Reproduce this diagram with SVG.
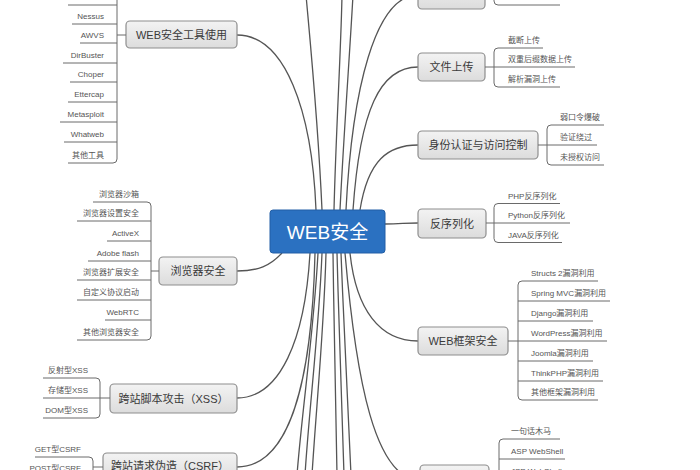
<svg xmlns="http://www.w3.org/2000/svg" width="700" height="470" viewBox="0 0 700 470">
<defs>
<linearGradient id="g" x1="0" y1="0" x2="0" y2="1"><stop offset="0" stop-color="#f3f3f3"/><stop offset="1" stop-color="#dcdcdc"/></linearGradient>
<style>
.box{fill:url(#g);stroke:#8e8e8e;stroke-width:1.2}
.mt{font-family:"Liberation Sans","Noto Sans CJK SC",sans-serif;font-size:11px;fill:#3a3a3a;text-anchor:middle;dominant-baseline:central}
.ct{font-family:"Liberation Sans","Noto Sans CJK SC",sans-serif;font-size:8px;fill:#555}
.l{text-anchor:end}
.conn path{fill:none;stroke:#555;stroke-width:1.3}
.br{fill:none;stroke:#6a6a6a;stroke-width:1}
</style>
</defs>
<rect width="700" height="470" fill="#fff"/>

<g id="connectors" class="conn">
<path d="M316,210 C312,110 285,35 237,35"/>
<path d="M322,210 C318,120 310,40 306,-5"/>
<path d="M334,210 C336,130 341,50 342,-5"/>
<path d="M340,210 C344,130 350,50 353,-5"/>
<path d="M346,210 C352,90 375,-5 418,-5"/>
<path d="M353,210 C360,110 380,67 418,67"/>
<path d="M360,210 C368,160 388,145 418,145"/>
<path d="M385,224 C400,224 405,223 418,223"/>
<path d="M282,253 C270,266 258,271 237,271"/>
<path d="M310,253 C305,340 280,398 237,398"/>
<path d="M315,253 C312,380 290,467 237,467"/>
<path d="M318,253 C314,330 302,410 297,475"/>
<path d="M322,253 C319,330 309,410 305,475"/>
<path d="M326,253 C324,330 316,410 312,475"/>
<path d="M333,253 C334,330 336,410 337,475"/>
<path d="M337,253 C339,330 342,410 344,475"/>
<path d="M341,253 C344,330 348,410 351,475"/>
<path d="M345,253 C356,380 375,480 420,480"/>
<path d="M350,253 C356,310 380,341 418,341"/>
</g>

<g id="center">
<rect x="270" y="210" width="115" height="43" rx="3" fill="#2b71c1" stroke="#235fa6" stroke-width="1"/>
<text x="327.5" y="232" font-family="'Liberation Sans','Noto Sans CJK SC',sans-serif" font-size="19" fill="#fff" text-anchor="middle" dominant-baseline="central">WEB安全</text>
</g>

<g id="tools">
<rect class="box" x="126" y="21" width="111" height="27" rx="4"/>
<text class="mt" x="181.5" y="35">WEB安全工具使用</text>
<path class="br" d="M117,35 H126 M117,-10 V159 Q117,163 113,163 H68 M68,5 H117 M72,24 H117 M80,43 H117 M63,63 H117 M70,82 H117 M68,102 H117 M60,122 H117 M64,142 H117"/>
<text class="ct l" x="104" y="19">Nessus</text>
<text class="ct l" x="104" y="38">AWVS</text>
<text class="ct l" x="104" y="58">DirBuster</text>
<text class="ct l" x="104" y="77">Choper</text>
<text class="ct l" x="104" y="97">Ettercap</text>
<text class="ct l" x="104" y="117">Metasploit</text>
<text class="ct l" x="104" y="137">Whatweb</text>
<text class="ct l" x="104" y="158">其他工具</text>
</g>

<g id="browser">
<rect class="box" x="159" y="257" width="78" height="28" rx="4"/>
<text class="mt" x="198" y="271">浏览器安全</text>
<path class="br" d="M151,271 H159 M93,202 H147 Q151,202 151,206 V336 Q151,340 147,340 H77 M77,221 H151 M107,241 H151 M88,261 H151 M77,280 H151 M77,300 H151 M105,320 H151"/>
<text class="ct l" x="139" y="197">浏览器沙箱</text>
<text class="ct l" x="139" y="216">浏览器设置安全</text>
<text class="ct l" x="139" y="236">ActiveX</text>
<text class="ct l" x="139" y="256">Adobe flash</text>
<text class="ct l" x="139" y="275">浏览器扩展安全</text>
<text class="ct l" x="139" y="295">自定义协议启动</text>
<text class="ct l" x="139" y="315">WebRTC</text>
<text class="ct l" x="139" y="335">其他浏览器安全</text>
</g>

<g id="xss">
<rect class="box" x="110" y="384" width="127" height="29" rx="4"/>
<text class="mt" x="173.5" y="398.5">跨站脚本攻击（XSS）</text>
<path class="br" d="M43,378 H96 Q100,378 100,382 V414 Q100,418 96,418 H43 M43,398 H110"/>
<text class="ct l" x="88" y="373">反射型XSS</text>
<text class="ct l" x="88" y="393">存储型XSS</text>
<text class="ct l" x="88" y="413">DOM型XSS</text>
</g>

<g id="csrf">
<rect class="box" x="103" y="453" width="134" height="29" rx="4"/>
<text class="mt" x="170" y="466">跨站请求伪造（CSRF）</text>
<path class="br" d="M93,467 H103 M35,457 H89 Q93,457 93,461 V480 M35,476 H93"/>
<text class="ct l" x="81" y="452">GET型CSRF</text>
<text class="ct l" x="81" y="471">POST型CSRF</text>
</g>

<g id="fileinclude">
<rect class="box" x="418" y="-20" width="67" height="29" rx="4"/>
<path class="br" d="M485,-5 H494 M494,-20 V1 Q494,5 498,5 H560"/>
</g>

<g id="upload">
<rect class="box" x="418" y="53" width="67" height="28" rx="4"/>
<text class="mt" x="451.5" y="67">文件上传</text>
<path class="br" d="M543,48 H498 Q494,48 494,52 V83 Q494,87 498,87 H560 M485,67 H575"/>
<text class="ct" x="508" y="43">截断上传</text>
<text class="ct" x="508" y="62">双重后缀数据上传</text>
<text class="ct" x="508" y="82">解析漏洞上传</text>
</g>

<g id="auth">
<rect class="box" x="418" y="131" width="120" height="28" rx="4"/>
<text class="mt" x="478" y="145">身份认证与访问控制</text>
<path class="br" d="M604,125 H551 Q547,125 547,129 V161 Q547,165 551,165 H604 M538,145 H597"/>
<text class="ct" x="560" y="120">弱口令爆破</text>
<text class="ct" x="560" y="140">验证绕过</text>
<text class="ct" x="560" y="160">未授权访问</text>
</g>

<g id="deser">
<rect class="box" x="418" y="209" width="68" height="29" rx="4"/>
<text class="mt" x="452" y="223.5">反序列化</text>
<path class="br" d="M560,203.5 H498 Q494,203.5 494,207.5 V238.5 Q494,242.5 498,242.5 H562 M486,223 H570"/>
<text class="ct" x="508" y="198.5">PHP反序列化</text>
<text class="ct" x="508" y="218">Python反序列化</text>
<text class="ct" x="508" y="237.5">JAVA反序列化</text>
</g>

<g id="framework">
<rect class="box" x="418" y="327" width="90" height="28" rx="4"/>
<text class="mt" x="463" y="341">WEB框架安全</text>
<path class="br" d="M598,281 H522 Q518,281 518,285 V396 Q518,400 522,400 H598 M518,301 H610 M518,321 H593 M508,341 H607 M518,361 H593 M518,381 H603"/>
<text class="ct" x="531" y="276">Structs 2漏洞利用</text>
<text class="ct" x="531" y="296">Spring MVC漏洞利用</text>
<text class="ct" x="531" y="316">Django漏洞利用</text>
<text class="ct" x="531" y="336">WordPress漏洞利用</text>
<text class="ct" x="531" y="356">Joomla漏洞利用</text>
<text class="ct" x="531" y="376">ThinkPHP漏洞利用</text>
<text class="ct" x="531" y="395">其他框架漏洞利用</text>
</g>

<g id="webshell">
<rect class="box" x="420" y="465" width="69" height="30" rx="4"/>
<path class="br" d="M560,439 H503 Q499,439 499,443 V490 M499,459 H565 M489,479 H565"/>
<text class="ct" x="511" y="434">一句话木马</text>
<text class="ct" x="511" y="454">ASP WebShell</text>
<text class="ct" x="511" y="474">JSP WebShell</text>
</g>
</svg>
